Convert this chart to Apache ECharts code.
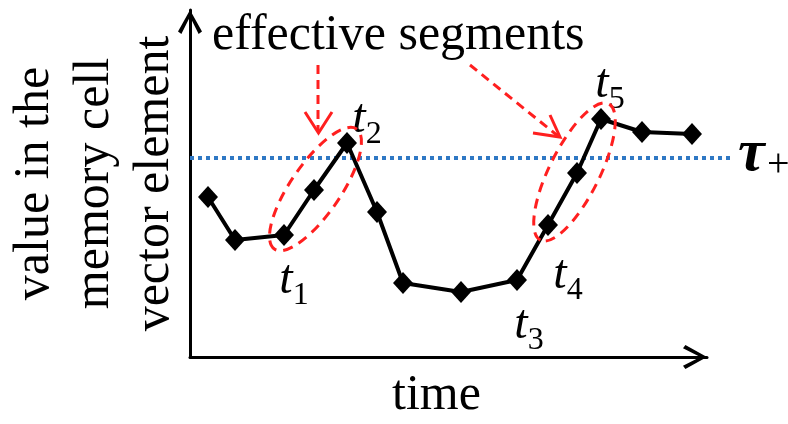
<!DOCTYPE html>
<html>
<head>
<meta charset="utf-8">
<script src="https://cdn.jsdelivr.net/npm/echarts@6/dist/echarts.min.js"></script>
<style>
  html, body { margin: 0; padding: 0; background: #fff; }
  #chart { width: 788px; height: 424px; }
</style>
</head>
<body>
<div id="chart"></div>
<script>
// time steps and cell values (arbitrary units)
const timeX = [18, 45, 94, 124, 157, 187, 213, 271, 327, 358, 387, 411, 452, 502]
const cellValue = [160, 117, 122, 167, 214, 145, 74, 65, 77, 132, 184, 238, 225, 223]
const tauPlus = 199
const tauSpan = [0, 541]
// which points get a t label, and their subscript
const tIndex = [2, 4, 8, 9, 11]
const tNames = ['1', '2', '3', '4', '5']
// effective segments: [start index, end index]
const segments = [[2, 4], [9, 11]]

const serif = '"Liberation Serif", "Times New Roman", serif'
const red = '#ff1f1f'

const labelOffsets = {
  2: [10, 45],
  4: [20, -24],
  8: [12, 45],
  9: [20, 50],
  11: [9, -35],
}

const lineData = timeX.map((x, i) => {
  const item = { value: [x, cellValue[i]] }
  const k = tIndex.indexOf(i)
  if (k >= 0) {
    item.label = {
      show: true,
      position: 'inside',
      offset: labelOffsets[i],
      formatter: '{t|t}{s|' + tNames[k] + '}',
      rich: {
        t: { fontSize: 48, lineHeight: 48, fontStyle: 'italic', fontFamily: serif, color: '#000', verticalAlign: 'top' },
        s: { fontSize: 32, lineHeight: 32, fontFamily: serif, color: '#000', verticalAlign: 'top', padding: [24, 0, 0, 0] },
      },
    }
  }
  return item
})

const segData = segments.map(([a, b]) => [timeX[a], cellValue[a], timeX[b], cellValue[b]])

const chevron = 'path://M0,9 L5,0 L10,9 L8.6,10 L5,2.8 L1.4,10 Z'

const chart = echarts.init(document.getElementById('chart'))

chart.setOption({
  animation: false,
  grid: { left: 190, right: 81, top: 10, bottom: 67, outerBoundsMode: 'none', containLabel: false },
  xAxis: {
    type: 'value',
    min: 0,
    max: 517,
    name: 'time',
    nameLocation: 'middle',
    nameGap: 14,
    nameTextStyle: { fontSize: 50, fontFamily: serif, color: '#000', padding: [0, 24, 0, 0] },
    axisLine: {
      show: true,
      symbol: ['none', chevron],
      symbolSize: [28, 24],
      symbolOffset: [0, -12],
      lineStyle: { color: '#000', width: 3 },
    },
    axisTick: { show: false },
    axisLabel: { show: false },
    splitLine: { show: false },
  },
  yAxis: {
    type: 'value',
    min: 0,
    max: 347,
    name: 'value in the\nmemory cell\nvector element',
    nameLocation: 'middle',
    nameRotate: 90,
    nameGap: 5,
    nameTextStyle: { fontSize: 50, lineHeight: 60, fontFamily: serif, color: '#000' },
    axisLine: {
      show: true,
      symbol: ['none', chevron],
      symbolSize: [28, 24],
      symbolOffset: [0, -12],
      lineStyle: { color: '#000', width: 3 },
    },
    axisTick: { show: false },
    axisLabel: { show: false },
    splitLine: { show: false },
  },
  series: [
    {
      name: 'threshold',
      type: 'custom',
      data: [[tauSpan[0], tauSpan[1], tauPlus]],
      z: 1,
      renderItem(params, api) {
        const a = api.coord([api.value(0), api.value(2)])
        const b = api.coord([api.value(1), api.value(2)])
        return {
          type: 'group',
          children: [
            {
              type: 'line',
              shape: { x1: a[0], y1: a[1], x2: b[0], y2: b[1] },
              style: { stroke: '#2f78c4', lineWidth: 4, lineDash: [4, 4] },
            },
            {
              type: 'text',
              x: b[0] + 7,
              y: b[1] - 4,
              style: {
                text: 'τ',
                fontSize: 60,
                fontStyle: 'italic',
                fontWeight: 'bold',
                fontFamily: serif,
                fill: '#000',
                align: 'left',
                verticalAlign: 'middle',
              },
            },
            {
              type: 'text',
              x: b[0] + 36,
              y: b[1] + 7,
              style: {
                text: '+',
                fontSize: 40,
                fontFamily: serif,
                fill: '#000',
                align: 'left',
                verticalAlign: 'middle',
              },
            },
          ],
        }
      },
    },
    {
      name: 'cell',
      type: 'line',
      data: lineData,
      symbol: 'diamond',
      symbolSize: [20, 22],
      z: 3,
      itemStyle: { color: '#000' },
      lineStyle: { color: '#000', width: 4 },
    },
    {
      name: 'segments',
      type: 'custom',
      data: segData,
      z: 4,
      renderItem(params, api) {
        const p1 = api.coord([api.value(0), api.value(1)])
        const p2 = api.coord([api.value(2), api.value(3)])
        const dx = p2[0] - p1[0]
        const dy = p2[1] - p1[1]
        const len = Math.sqrt(dx * dx + dy * dy)
        return {
          type: 'ellipse',
          x: (p1[0] + p2[0]) / 2,
          y: (p1[1] + p2[1]) / 2,
          rotation: Math.atan2(-dy, dx),
          shape: { cx: 0, cy: 0, rx: len / 2 + 17, ry: 25 },
          style: { fill: 'none', stroke: red, lineWidth: 3, lineDash: [10, 7] },
        }
      },
    },
  ],
  graphic: [
    {
      type: 'text',
      left: 212,
      top: 11,
      style: { text: 'effective segments', font: '50px ' + serif, fill: '#000' },
    },
    {
      type: 'polyline',
      shape: { points: [[318, 65], [318, 131]] },
      style: { stroke: red, lineWidth: 3, lineDash: [9, 6], fill: 'none' },
    },
    {
      type: 'polyline',
      shape: { points: [[305, 112], [318.5, 133], [332, 112]] },
      style: { stroke: red, lineWidth: 3, fill: 'none' },
    },
    {
      type: 'polyline',
      shape: { points: [[470, 65], [558, 136]] },
      style: { stroke: red, lineWidth: 3, lineDash: [9, 6], fill: 'none' },
    },
    {
      type: 'polyline',
      shape: { points: [[550, 115], [560, 137], [533, 133]] },
      style: { stroke: red, lineWidth: 3, fill: 'none' },
    },
  ],
})

window.addEventListener('resize', () => chart.resize())
</script>
</body>
</html>
